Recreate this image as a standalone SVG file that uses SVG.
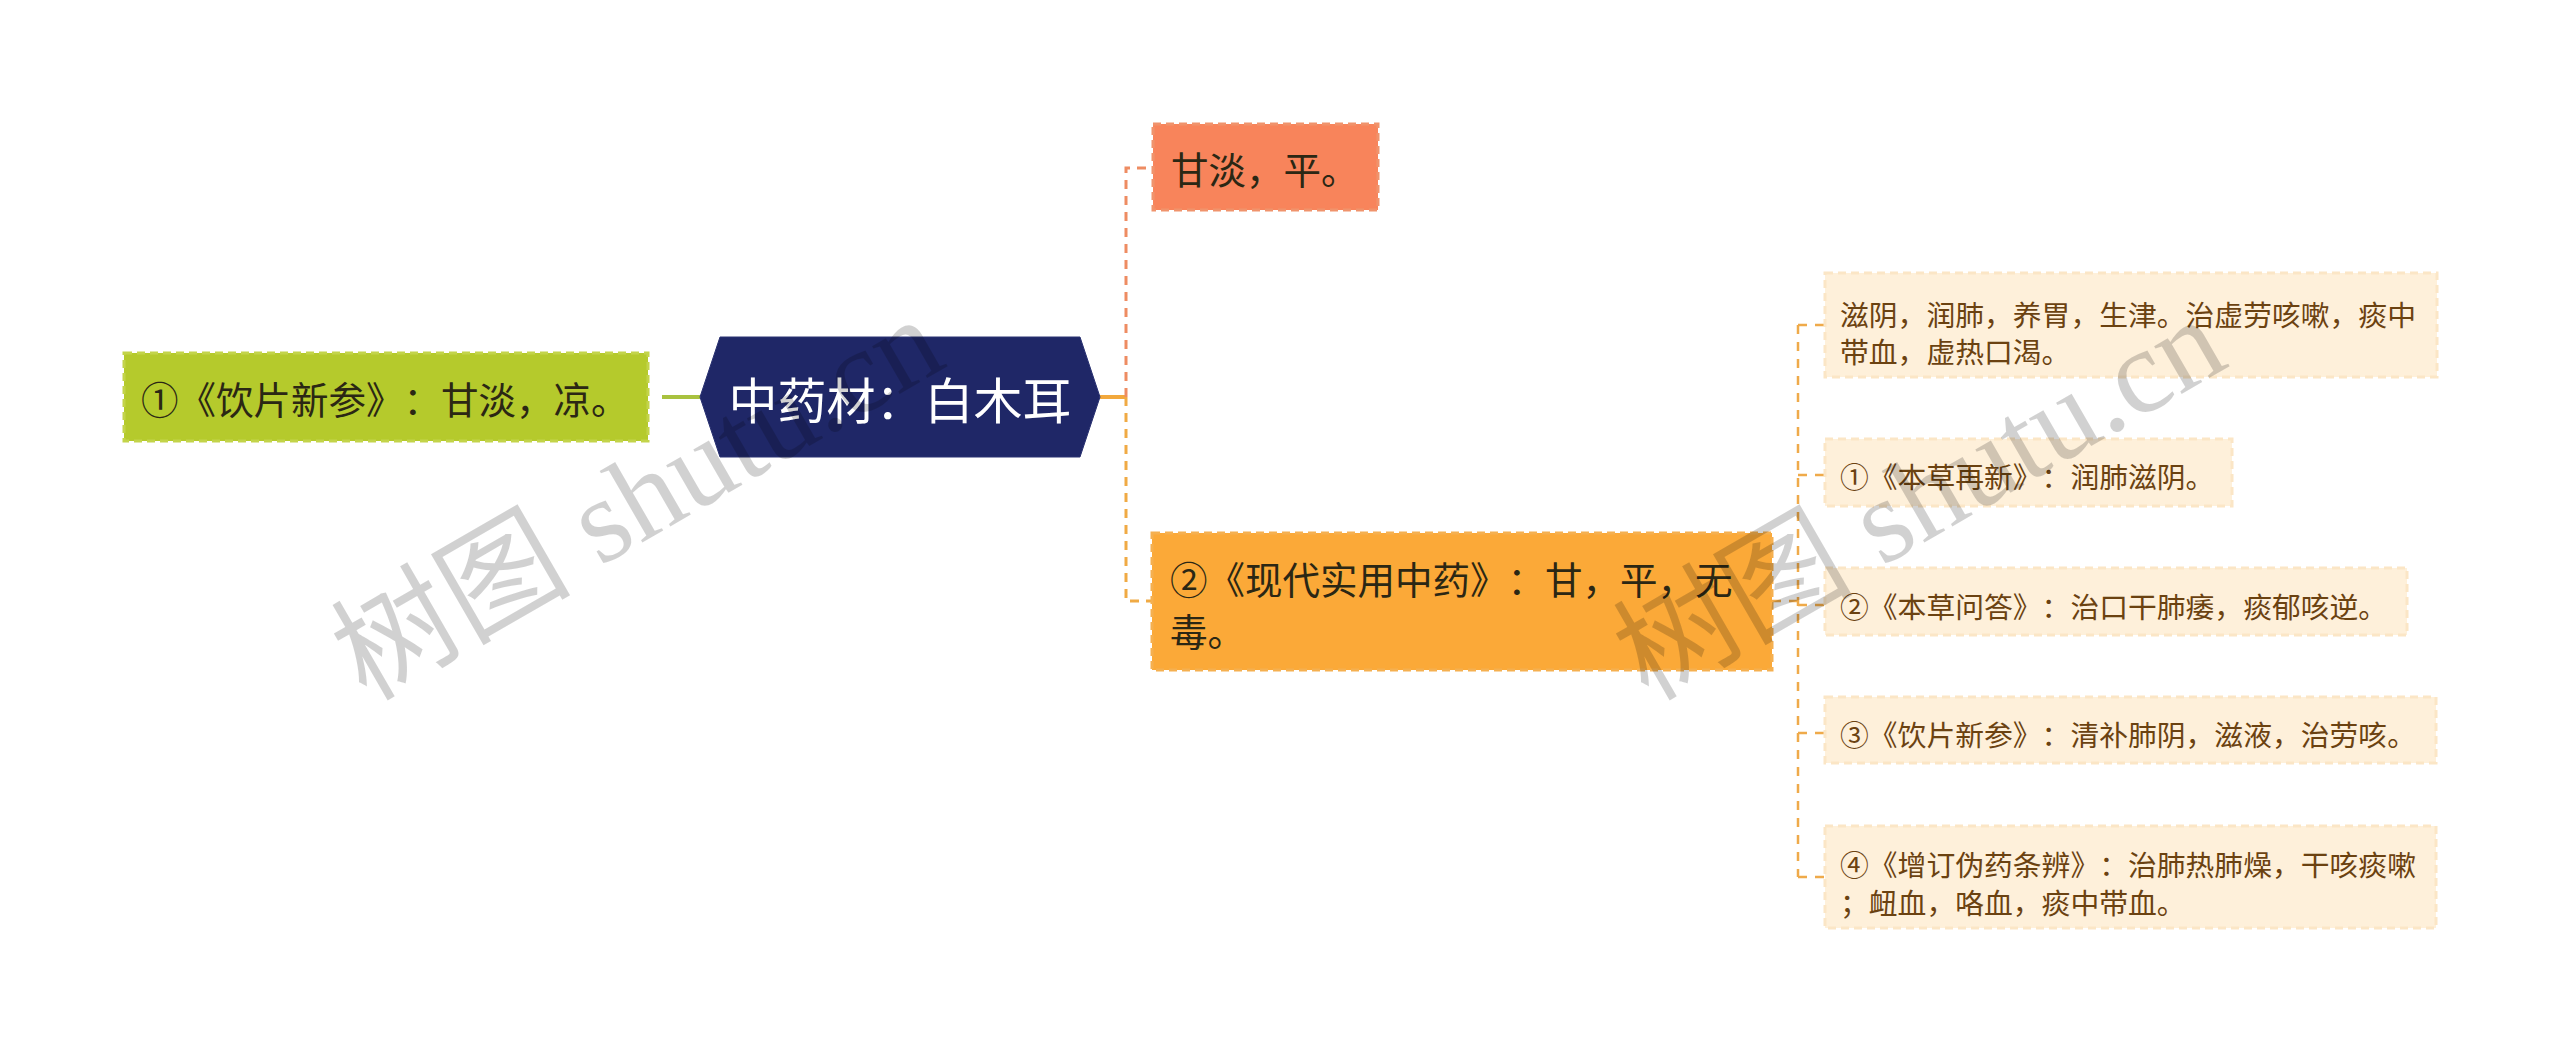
<svg xmlns="http://www.w3.org/2000/svg" width="2560" height="1054" viewBox="0 0 2560 1054">
<style>
  text { font-family: "Noto Sans CJK SC", "Noto Sans", sans-serif; dominant-baseline: central; text-spacing-trim: space-all; }
  .main { font-size: 37.5px; fill: #2b2714; }
  .sub { font-size: 28.8px; fill: #6b4211; }
  .root { font-size: 49px; fill: #ffffff; text-anchor: middle; }
  .box-green { fill: #b5ca2c; stroke: #c3d44a; stroke-width: 3; stroke-dasharray: 8 5; }
  .box-coral { fill: #f8845b; stroke: #f0936c; stroke-width: 3; stroke-dasharray: 8 5; }
  .box-orange { fill: #fba938; stroke: #f5b050; stroke-width: 3; stroke-dasharray: 8 5; }
  .box-light { fill: #fef0da; stroke: #fbe6c6; stroke-width: 3; stroke-dasharray: 8 5; }
  .c-green { stroke: #a9c23f; stroke-width: 4; fill: none; }
  .c-orange { stroke: #f2a83c; stroke-width: 4; fill: none; }
  .c-coral-d { stroke: #ee8c62; stroke-width: 3; fill: none; stroke-dasharray: 9 7; }
  .c-orange-d { stroke: #f0aa44; stroke-width: 3; fill: none; stroke-dasharray: 9 7; }
  .c-right-d { stroke: #efaa4a; stroke-width: 2.5; fill: none; stroke-dasharray: 9 8; }
  .wm { font-family: "Liberation Serif", "Noto Sans CJK SC", serif; font-size: 120px; fill: #000000; fill-opacity: 0.18; dominant-baseline: alphabetic; }
</style>
<rect x="0" y="0" width="2560" height="1054" fill="#ffffff"/>
<g id="connectors">
  <path class="c-green" d="M662,397 H700"/>
  <path class="c-orange" d="M1100,397 H1126"/>
  <path class="c-coral-d" d="M1126,397 V168 H1153"/>
  <path class="c-orange-d" d="M1126,397 V601 H1152"/>
  <path class="c-right-d" d="M1772,601 H1798"/>
  <path class="c-right-d" d="M1798,325 V877"/>
  <path class="c-right-d" d="M1798,325 H1825"/>
  <path class="c-right-d" d="M1798,475 H1825"/>
  <path class="c-right-d" d="M1798,605 H1825"/>
  <path class="c-right-d" d="M1798,733 H1825"/>
  <path class="c-right-d" d="M1798,877 H1825"/>
</g>
<g id="node-left">
  <rect class="box-green" x="124" y="353" width="524" height="88"/>
  <text class="main" x="141" y="397">①《饮片新参》：甘淡，凉。</text>
</g>
<g id="node-root">
  <polygon points="700,397 720,337 1080,337 1100,397 1080,457 720,457" fill="#1f2767" stroke="#2a3272" stroke-width="1"/>
  <text class="root" x="900" y="397">中药材：白木耳</text>
</g>
<g id="node-taste">
  <rect class="box-coral" x="1153" y="124" width="225" height="86"/>
  <text class="main" x="1171" y="167">甘淡，平。</text>
</g>
<g id="node-modern">
  <rect class="box-orange" x="1152" y="533" width="620" height="137"/>
  <text class="main" x="1170" y="577">②《现代实用中药》：甘，平，无</text>
  <text class="main" x="1170" y="629">毒。</text>
</g>
<g id="node-effect">
  <rect class="box-light" x="1825" y="273" width="612" height="104"/>
  <text class="sub" x="1840" y="313">滋阴，润肺，养胃，生津。治虚劳咳嗽，痰中</text>
  <text class="sub" x="1840" y="350">带血，虚热口渴。</text>
</g>
<g id="node-sub1">
  <rect class="box-light" x="1825" y="439" width="407" height="67"/>
  <text class="sub" x="1840" y="475">①《本草再新》：润肺滋阴。</text>
</g>
<g id="node-sub2">
  <rect class="box-light" x="1825" y="568" width="582" height="67"/>
  <text class="sub" x="1840" y="605">②《本草问答》：治口干肺痿，痰郁咳逆。</text>
</g>
<g id="node-sub3">
  <rect class="box-light" x="1825" y="697" width="611" height="66"/>
  <text class="sub" x="1840" y="733">③《饮片新参》：清补肺阴，滋液，治劳咳。</text>
</g>
<g id="node-sub4">
  <rect class="box-light" x="1825" y="826" width="611" height="102"/>
  <text class="sub" x="1840" y="863">④《增订伪药条辨》：治肺热肺燥，干咳痰嗽</text>
  <text class="sub" x="1840" y="901">；衄血，咯血，痰中带血。</text>
</g>
<g id="watermarks">
  <text class="wm" transform="translate(366,702) rotate(-30)">树图 shutu.cn</text>
  <text class="wm" transform="translate(1648,702) rotate(-30)">树图 shutu.cn</text>
</g>
</svg>
